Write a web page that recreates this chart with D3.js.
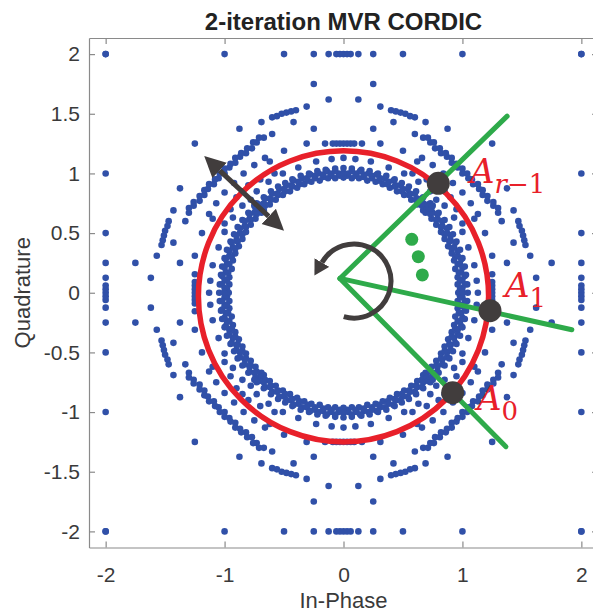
<!DOCTYPE html>
<html lang="en">
  <head>
    <meta charset="UTF-8" />
    <title>2-iteration MVR CORDIC</title>
    <style>
      html,
      body {
        margin: 0;
        background: #fff;
      }
      svg {
        display: block;
        font-family: "Liberation Sans", Arial, sans-serif;
      }
    </style>
    <script src="https://cdn.jsdelivr.net/npm/d3@7"></script>
  </head>

  <body>
    <script>
      // ---- data ----
      // clipped outputs sitting on the x = ±2 / y = ±2 borders
      const edgeVals = [-2, -1, -0.5, -0.25, -0.125, -0.06, -0.03, 0, 0.03, 0.06, 0.125, 0.25, 0.5, 1, 2];

      // isolated points outside the main ring
      const latticePts = [
        // upper left
        [-1.75,.25],[-.25,1.75],[-1.62,.125],[-.125,1.62],[-1.25,1.25],[-1.375,.875],[-.875,1.375],[-1.375,.25],[-.25,1.375],[-1.57,.31],[-.31,1.56],[-.69,1.43],[-1.43,.69],[-.42,1.43],[-1.43,.42],[-.6,1.33],[-1.33,.6],[-.5,1.19],[-1.19,.5],[-.31,1.25],[-.155,1.25],[-.09,1.25],[-.06,1.25],[-.03,1.25],[-1.25,.31],[-1.25,.155],[-1.25,.09],[-1.25,.06],[-1.25,.03],
        // upper right
        [1.75,.25],[.25,1.75],[1.62,.125],[.125,1.62],[1.25,1.25],[1.375,.875],[.875,1.375],[1.375,.25],[.25,1.375],[1.57,.31],[.31,1.56],[.69,1.43],[1.43,.69],[.42,1.43],[1.43,.42],[.6,1.33],[1.33,.6],[.5,1.19],[1.19,.5],[.31,1.25],[.155,1.25],[.09,1.25],[.06,1.25],[.03,1.25],[1.25,.31],[1.25,.155],[1.25,.09],[1.25,.06],[1.25,.03],
        // lower left
        [-1.75,-.25],[-.25,-1.75],[-1.62,-.125],[-.125,-1.62],[-1.25,-1.25],[-1.375,-.875],[-.875,-1.375],[-1.375,-.25],[-.25,-1.375],[-1.57,-.31],[-.31,-1.56],[-.69,-1.43],[-1.43,-.69],[-.42,-1.43],[-1.43,-.42],[-.6,-1.33],[-1.33,-.6],[-.5,-1.19],[-1.19,-.5],[-.31,-1.25],[-.155,-1.25],[-.09,-1.25],[-.06,-1.25],[-.03,-1.25],[-1.25,-.31],[-1.25,-.155],[-1.25,-.09],[-1.25,-.06],[-1.25,-.03],
        // lower right
        [1.75,-.25],[.25,-1.75],[1.62,-.125],[.125,-1.62],[1.25,-1.25],[1.375,-.875],[.875,-1.375],[1.375,-.25],[.25,-1.375],[1.57,-.31],[.31,-1.56],[.69,-1.43],[1.43,-.69],[.42,-1.43],[1.43,-.42],[.6,-1.33],[1.33,-.6],[.5,-1.19],[1.19,-.5],[.31,-1.25],[.155,-1.25],[.09,-1.25],[.06,-1.25],[.03,-1.25],[1.25,-.31],[1.25,-.155],[1.25,-.09],[1.25,-.06],[1.25,-.03]
      ];

      // dotted outer ring segments (r ~ 1.58)
      const outerRing = [
        [-.6,1.47],[-.56,1.48],[-.52,1.5],[-.48,1.51],[-.44,1.52],[-.4,1.53],[-1.47,.6],[-1.48,.56],[-1.5,.52],[-1.51,.48],[-1.52,.44],[-1.53,.4],
        [.6,1.47],[.56,1.48],[.52,1.5],[.48,1.51],[.44,1.52],[.4,1.53],[1.47,.6],[1.48,.56],[1.5,.52],[1.51,.48],[1.52,.44],[1.53,.4],
        [-.6,-1.47],[-.56,-1.48],[-.52,-1.5],[-.48,-1.51],[-.44,-1.52],[-.4,-1.53],[-1.47,-.6],[-1.48,-.56],[-1.5,-.52],[-1.51,-.48],[-1.52,-.44],[-1.53,-.4],
        [.6,-1.47],[.56,-1.48],[.52,-1.5],[.48,-1.51],[.44,-1.52],[.4,-1.53],[1.47,-.6],[1.48,-.56],[1.5,-.52],[1.51,-.48],[1.52,-.44],[1.53,-.4]
      ];

      // diagonal arcs (r ~ 1.45 and r ~ 1.32)
      const arcPts = [
        [-.67,1.3],[-.73,1.26],[-.77,1.21],[-.82,1.17],[-.87,1.14],[-.91,1.09],[-.96,1.05],[-1,1],[-1.05,.96],[-1.09,.91],[-1.14,.87],[-1.17,.82],[-1.21,.77],[-1.26,.73],[-1.3,.67],[-.71,1.3],[-.76,1.26],[-.81,1.21],[-.86,1.17],[-.91,1.13],[-.95,1.08],[-1,1.04],[-1.04,1],[-1.08,.95],[-1.13,.91],[-1.17,.86],[-1.21,.81],[-1.26,.76],[-1.3,.71],[-.66,1.13],[-.75,1.07],[-.84,1],[-.92,.92],[-1,.84],[-1.07,.75],[-1.13,.66],
        [.67,1.3],[.73,1.26],[.77,1.21],[.82,1.17],[.87,1.14],[.91,1.09],[.96,1.05],[1,1],[1.05,.96],[1.09,.91],[1.14,.87],[1.17,.82],[1.21,.77],[1.26,.73],[1.3,.67],[.71,1.3],[.76,1.26],[.81,1.21],[.86,1.17],[.91,1.13],[.95,1.08],[1,1.04],[1.04,1],[1.08,.95],[1.13,.91],[1.17,.86],[1.21,.81],[1.26,.76],[1.3,.71],[.66,1.13],[.75,1.07],[.84,1],[.92,.92],[1,.84],[1.07,.75],[1.13,.66],
        [-.67,-1.3],[-.73,-1.26],[-.77,-1.21],[-.82,-1.17],[-.87,-1.14],[-.91,-1.09],[-.96,-1.05],[-1,-1],[-1.05,-.96],[-1.09,-.91],[-1.14,-.87],[-1.17,-.82],[-1.21,-.77],[-1.26,-.73],[-1.3,-.67],[-.71,-1.3],[-.76,-1.26],[-.81,-1.21],[-.86,-1.17],[-.91,-1.13],[-.95,-1.08],[-1,-1.04],[-1.04,-1],[-1.08,-.95],[-1.13,-.91],[-1.17,-.86],[-1.21,-.81],[-1.26,-.76],[-1.3,-.71],[-.66,-1.13],[-.75,-1.07],[-.84,-1],[-.92,-.92],[-1,-.84],[-1.07,-.75],[-1.13,-.66],
        [.67,-1.3],[.73,-1.26],[.77,-1.21],[.82,-1.17],[.87,-1.14],[.91,-1.09],[.96,-1.05],[1,-1],[1.05,-.96],[1.09,-.91],[1.14,-.87],[1.17,-.82],[1.21,-.77],[1.26,-.73],[1.3,-.67],[.71,-1.3],[.76,-1.26],[.81,-1.21],[.86,-1.17],[.91,-1.13],[.95,-1.08],[1,-1.04],[1.04,-1],[1.08,-.95],[1.13,-.91],[1.17,-.86],[1.21,-.81],[1.26,-.76],[1.3,-.71],[.66,-1.13],[.75,-1.07],[.84,-1],[.92,-.92],[1,-.84],[1.07,-.75],[1.13,-.66]
      ];

      // the dense band around r ~ 1
      const bandPts = [
        // upper left
        [-.07,.96],[-.13,.96],[-.2,.94],[-.27,.93],[-.33,.91],[-.39,.88],[-.45,.85],[-.51,.82],[-.57,.78],[-.62,.74],[-.67,.69],[-.69,.67],[-.74,.62],[-.78,.57],[-.82,.51],[-.85,.45],[-.88,.39],[-.91,.33],[-.93,.27],[-.94,.2],[-.96,.13],[-.96,.07],
        [-.03,.98],[-.1,.98],[-.17,.97],[-.24,.96],[-.3,.94],[-.37,.91],[-.43,.89],[-.49,.85],[-.55,.82],[-.61,.78],[-.66,.73],[-.7,.7],[-.73,.66],[-.78,.61],[-.82,.55],[-.85,.49],[-.89,.43],[-.91,.37],[-.94,.3],[-.96,.24],[-.97,.17],[-.98,.1],[-.98,.03],
        [-.04,1],[-.11,1],[-.17,.99],[-.24,.98],[-.31,.96],[-.38,.93],[-.44,.9],[-.5,.87],[-.56,.83],[-.62,.79],[-.67,.75],[-.71,.71],[-.75,.67],[-.79,.62],[-.83,.56],[-.87,.5],[-.9,.44],[-.93,.38],[-.96,.31],[-.98,.24],[-.99,.17],[-1,.11],[-1,.04],
        [-.07,1.02],[-.14,1.02],[-.21,1],[-.28,.99],[-.35,.96],[-.42,.94],[-.48,.9],[-.54,.87],[-.6,.83],[-.66,.79],[-.71,.74],[-.74,.71],[-.79,.66],[-.83,.6],[-.87,.54],[-.9,.48],[-.94,.42],[-.96,.35],[-.99,.28],[-1,.21],[-1.02,.14],[-1.02,.07],
        [-.07,1.04],[-.15,1.03],[-.22,1.02],[-.29,1],[-.36,.98],[-.43,.95],[-.49,.92],[-.55,.89],[-.61,.85],[-.67,.8],[-.73,.75],[-.75,.73],[-.8,.67],[-.85,.61],[-.89,.55],[-.92,.49],[-.95,.43],[-.98,.36],[-1,.29],[-1.02,.22],[-1.03,.15],[-1.04,.07],
        [-.1,1.12],[-.23,1.1],[-.38,1.05],[-.51,1],[-.63,.93],[-.73,.85],[-.85,.73],[-.93,.63],[-1,.51],[-1.05,.38],[-1.1,.23],[-1.12,.1],
        [-.58,1],[-.7,.95],[-.8,.9],[-.85,.85],[-.9,.8],[-.95,.7],[-1,.58],[-.62,1.1],[-1.1,.62],[-.78,.78],
        // upper right
        [.07,.96],[.13,.96],[.2,.94],[.27,.93],[.33,.91],[.39,.88],[.45,.85],[.51,.82],[.57,.78],[.62,.74],[.67,.69],[.69,.67],[.74,.62],[.78,.57],[.82,.51],[.85,.45],[.88,.39],[.91,.33],[.93,.27],[.94,.2],[.96,.13],[.96,.07],
        [.03,.98],[.1,.98],[.17,.97],[.24,.96],[.3,.94],[.37,.91],[.43,.89],[.49,.85],[.55,.82],[.61,.78],[.66,.73],[.7,.7],[.73,.66],[.78,.61],[.82,.55],[.85,.49],[.89,.43],[.91,.37],[.94,.3],[.96,.24],[.97,.17],[.98,.1],[.98,.03],
        [.04,1],[.11,1],[.17,.99],[.24,.98],[.31,.96],[.38,.93],[.44,.9],[.5,.87],[.56,.83],[.62,.79],[.67,.75],[.71,.71],[.75,.67],[.79,.62],[.83,.56],[.87,.5],[.9,.44],[.93,.38],[.96,.31],[.98,.24],[.99,.17],[1,.11],[1,.04],
        [.07,1.02],[.14,1.02],[.21,1],[.28,.99],[.35,.96],[.42,.94],[.48,.9],[.54,.87],[.6,.83],[.66,.79],[.71,.74],[.74,.71],[.79,.66],[.83,.6],[.87,.54],[.9,.48],[.94,.42],[.96,.35],[.99,.28],[1,.21],[1.02,.14],[1.02,.07],
        [.07,1.04],[.15,1.03],[.22,1.02],[.29,1],[.36,.98],[.43,.95],[.49,.92],[.55,.89],[.61,.85],[.67,.8],[.73,.75],[.75,.73],[.8,.67],[.85,.61],[.89,.55],[.92,.49],[.95,.43],[.98,.36],[1,.29],[1.02,.22],[1.03,.15],[1.04,.07],
        [.1,1.12],[.23,1.1],[.38,1.05],[.51,1],[.63,.93],[.73,.85],[.85,.73],[.93,.63],[1,.51],[1.05,.38],[1.1,.23],[1.12,.1],
        [.58,1],[.7,.95],[.8,.9],[.85,.85],[.9,.8],[.95,.7],[1,.58],[.62,1.1],[1.1,.62],[.78,.78],
        // lower left
        [-.07,-.96],[-.13,-.96],[-.2,-.94],[-.27,-.93],[-.33,-.91],[-.39,-.88],[-.45,-.85],[-.51,-.82],[-.57,-.78],[-.62,-.74],[-.67,-.69],[-.69,-.67],[-.74,-.62],[-.78,-.57],[-.82,-.51],[-.85,-.45],[-.88,-.39],[-.91,-.33],[-.93,-.27],[-.94,-.2],[-.96,-.13],[-.96,-.07],
        [-.03,-.98],[-.1,-.98],[-.17,-.97],[-.24,-.96],[-.3,-.94],[-.37,-.91],[-.43,-.89],[-.49,-.85],[-.55,-.82],[-.61,-.78],[-.66,-.73],[-.7,-.7],[-.73,-.66],[-.78,-.61],[-.82,-.55],[-.85,-.49],[-.89,-.43],[-.91,-.37],[-.94,-.3],[-.96,-.24],[-.97,-.17],[-.98,-.1],[-.98,-.03],
        [-.04,-1],[-.11,-1],[-.17,-.99],[-.24,-.98],[-.31,-.96],[-.38,-.93],[-.44,-.9],[-.5,-.87],[-.56,-.83],[-.62,-.79],[-.67,-.75],[-.71,-.71],[-.75,-.67],[-.79,-.62],[-.83,-.56],[-.87,-.5],[-.9,-.44],[-.93,-.38],[-.96,-.31],[-.98,-.24],[-.99,-.17],[-1,-.11],[-1,-.04],
        [-.07,-1.02],[-.14,-1.02],[-.21,-1],[-.28,-.99],[-.35,-.96],[-.42,-.94],[-.48,-.9],[-.54,-.87],[-.6,-.83],[-.66,-.79],[-.71,-.74],[-.74,-.71],[-.79,-.66],[-.83,-.6],[-.87,-.54],[-.9,-.48],[-.94,-.42],[-.96,-.35],[-.99,-.28],[-1,-.21],[-1.02,-.14],[-1.02,-.07],
        [-.07,-1.04],[-.15,-1.03],[-.22,-1.02],[-.29,-1],[-.36,-.98],[-.43,-.95],[-.49,-.92],[-.55,-.89],[-.61,-.85],[-.67,-.8],[-.73,-.75],[-.75,-.73],[-.8,-.67],[-.85,-.61],[-.89,-.55],[-.92,-.49],[-.95,-.43],[-.98,-.36],[-1,-.29],[-1.02,-.22],[-1.03,-.15],[-1.04,-.07],
        [-.1,-1.12],[-.23,-1.1],[-.38,-1.05],[-.51,-1],[-.63,-.93],[-.73,-.85],[-.85,-.73],[-.93,-.63],[-1,-.51],[-1.05,-.38],[-1.1,-.23],[-1.12,-.1],
        [-.58,-1],[-.7,-.95],[-.8,-.9],[-.85,-.85],[-.9,-.8],[-.95,-.7],[-1,-.58],[-.62,-1.1],[-1.1,-.62],[-.78,-.78],
        // lower right
        [.07,-.96],[.13,-.96],[.2,-.94],[.27,-.93],[.33,-.91],[.39,-.88],[.45,-.85],[.51,-.82],[.57,-.78],[.62,-.74],[.67,-.69],[.69,-.67],[.74,-.62],[.78,-.57],[.82,-.51],[.85,-.45],[.88,-.39],[.91,-.33],[.93,-.27],[.94,-.2],[.96,-.13],[.96,-.07],
        [.03,-.98],[.1,-.98],[.17,-.97],[.24,-.96],[.3,-.94],[.37,-.91],[.43,-.89],[.49,-.85],[.55,-.82],[.61,-.78],[.66,-.73],[.7,-.7],[.73,-.66],[.78,-.61],[.82,-.55],[.85,-.49],[.89,-.43],[.91,-.37],[.94,-.3],[.96,-.24],[.97,-.17],[.98,-.1],[.98,-.03],
        [.04,-1],[.11,-1],[.17,-.99],[.24,-.98],[.31,-.96],[.38,-.93],[.44,-.9],[.5,-.87],[.56,-.83],[.62,-.79],[.67,-.75],[.71,-.71],[.75,-.67],[.79,-.62],[.83,-.56],[.87,-.5],[.9,-.44],[.93,-.38],[.96,-.31],[.98,-.24],[.99,-.17],[1,-.11],[1,-.04],
        [.07,-1.02],[.14,-1.02],[.21,-1],[.28,-.99],[.35,-.96],[.42,-.94],[.48,-.9],[.54,-.87],[.6,-.83],[.66,-.79],[.71,-.74],[.74,-.71],[.79,-.66],[.83,-.6],[.87,-.54],[.9,-.48],[.94,-.42],[.96,-.35],[.99,-.28],[1,-.21],[1.02,-.14],[1.02,-.07],
        [.07,-1.04],[.15,-1.03],[.22,-1.02],[.29,-1],[.36,-.98],[.43,-.95],[.49,-.92],[.55,-.89],[.61,-.85],[.67,-.8],[.73,-.75],[.75,-.73],[.8,-.67],[.85,-.61],[.89,-.55],[.92,-.49],[.95,-.43],[.98,-.36],[1,-.29],[1.02,-.22],[1.03,-.15],[1.04,-.07],
        [.1,-1.12],[.23,-1.1],[.38,-1.05],[.51,-1],[.63,-.93],[.73,-.85],[.85,-.73],[.93,-.63],[1,-.51],[1.05,-.38],[1.1,-.23],[1.12,-.1],
        [.58,-1],[.7,-.95],[.8,-.9],[.85,-.85],[.9,-.8],[.95,-.7],[1,-.58],[.62,-1.1],[1.1,-.62],[.78,-.78]
      ];

      // points lying on the axes themselves
      const axisPts = [
        [0,1.25],[0,-1.25],[1.25,0],[-1.25,0],[0,.965],[0,-.965],[.965,0],[-.965,0],
        [0,1.005],[0,-1.005],[1.005,0],[-1.005,0],[0,1.045],[0,-1.045],[1.045,0],[-1.045,0],
        [0,1.13],[0,-1.13],[1.13,0],[-1.13,0]
      ];

      const xTicks = [-2, -1, 0, 1, 2];
      const yTicks = [-2, -1.5, -1, -0.5, 0, 0.5, 1, 1.5, 2];

      // ---- canvas ----
      const width = 593;
      const height = 615;
      const svg = d3.select("body").append("svg").attr("width", width).attr("height", height);

      const x = d3.scaleLinear().domain([-2.14, 2.14]).range([89, 598]);
      const y = d3.scaleLinear().domain([-2.135, 2.135]).range([547.5, 38]);

      const axisGrey = "#8a8a8a";
      const textGrey = "#3a3a3a";
      const fmt = (d) => String(d); // keep plain hyphen minus

      // ---- axes (MATLAB box, inward ticks) ----
      const gx = svg.append("g").attr("transform", `translate(0,${y(-2.135)})`)
        .call(d3.axisBottom(x).tickValues(xTicks).tickFormat(fmt).tickSizeInner(-6).tickSizeOuter(0).tickPadding(20));
      const gxTop = svg.append("g").attr("transform", `translate(0,${y(2.135)})`)
        .call(d3.axisTop(x).tickValues(xTicks).tickFormat("").tickSizeInner(-6).tickSizeOuter(0));
      const gy = svg.append("g").attr("transform", `translate(${x(-2.14)},0)`)
        .call(d3.axisLeft(y).tickValues(yTicks).tickFormat(fmt).tickSizeInner(-6).tickSizeOuter(0).tickPadding(9));
      const gyRight = svg.append("g").attr("transform", `translate(${x(2.14)},0)`)
        .call(d3.axisRight(y).tickValues(yTicks).tickFormat("").tickSizeInner(-6).tickSizeOuter(0));

      [gx, gxTop, gy, gyRight].forEach((g) => {
        g.select(".domain").attr("stroke", axisGrey).attr("stroke-width", 1.2);
        g.selectAll(".tick line").attr("stroke", axisGrey).attr("stroke-width", 1.2);
        g.selectAll(".tick text").attr("fill", textGrey).attr("font-size", 21)
          .attr("font-family", "'Liberation Sans', Arial, sans-serif");
      });

      // ---- scatter ----
      const edgePts = edgeVals.flatMap((v) => [[v, 2], [v, -2], [2, v], [-2, v]]);
      const allPts = [].concat(edgePts, latticePts, outerRing, arcPts, bandPts, axisPts);

      svg.append("g")
        .selectAll("circle")
        .data(allPts)
        .join("circle")
        .attr("cx", (d) => x(d[0]))
        .attr("cy", (d) => y(d[1]))
        .attr("r", 3.3)
        .attr("fill", "#3050a8");

      // ---- annotations ----
      const red = "#e8202a";
      const green = "#2eaa4a";
      const dark = "#413d3d";

      // red reference circle
      const ring = { c: [0, -0.03], r: 1.22 };
      svg.append("ellipse")
        .attr("cx", x(ring.c[0]))
        .attr("cy", y(ring.c[1]))
        .attr("rx", x(ring.r) - x(0))
        .attr("ry", y(0) - y(ring.r))
        .attr("fill", "none")
        .attr("stroke", red)
        .attr("stroke-width", 5.5);

      // green rays
      const rayOrigin = [-0.03, 0.12];
      const rayEnds = [[1.376, 1.48], [1.92, -0.31], [1.366, -1.29]];
      svg.append("g")
        .selectAll("line")
        .data(rayEnds)
        .join("line")
        .attr("x1", x(rayOrigin[0]))
        .attr("y1", y(rayOrigin[1]))
        .attr("x2", (d) => x(d[0]))
        .attr("y2", (d) => y(d[1]))
        .attr("stroke", green)
        .attr("stroke-width", 5)
        .attr("stroke-linecap", "round");

      // the three green dots
      const greenDots = [[0.574, 0.448], [0.629, 0.302], [0.663, 0.149]];
      svg.append("g")
        .selectAll("circle")
        .data(greenDots)
        .join("circle")
        .attr("cx", (d) => x(d[0]))
        .attr("cy", (d) => y(d[1]))
        .attr("r", 6.5)
        .attr("fill", green);

      // arrow heads
      const defs = svg.append("defs");
      defs.append("marker")
        .attr("id", "headBig")
        .attr("markerUnits", "userSpaceOnUse")
        .attr("viewBox", "0 -11 22 22")
        .attr("markerWidth", 22)
        .attr("markerHeight", 22)
        .attr("refX", 0)
        .attr("refY", 0)
        .attr("orient", "auto-start-reverse")
        .append("path")
        .attr("d", "M0,-10.5L21,0L0,10.5Z")
        .attr("fill", dark);
      defs.append("marker")
        .attr("id", "headSmall")
        .attr("markerUnits", "userSpaceOnUse")
        .attr("viewBox", "0 -9 16 18")
        .attr("markerWidth", 16)
        .attr("markerHeight", 18)
        .attr("refX", 0)
        .attr("refY", 0)
        .attr("orient", "auto")
        .append("path")
        .attr("d", "M0,-8.5L15,0L0,8.5Z")
        .attr("fill", dark);

      // double arrow on the upper left
      const dbl = [[-1.165, 1.14], [-0.506, 0.525]];
      const p0 = [x(dbl[0][0]), y(dbl[0][1])];
      const p1 = [x(dbl[1][0]), y(dbl[1][1])];
      const len = Math.hypot(p1[0] - p0[0], p1[1] - p0[1]);
      const ux = (p1[0] - p0[0]) / len;
      const uy = (p1[1] - p0[1]) / len;
      svg.append("line")
        .attr("x1", p0[0] + ux * 20)
        .attr("y1", p0[1] + uy * 20)
        .attr("x2", p1[0] - ux * 20)
        .attr("y2", p1[1] - uy * 20)
        .attr("stroke", dark)
        .attr("stroke-width", 5)
        .attr("marker-start", "url(#headBig)")
        .attr("marker-end", "url(#headBig)");

      // rotation arrow around the ray origin
      const rot = { c: [0.088, 0.098], r: 37, from: 106, to: -150 };
      const rc = [x(rot.c[0]), y(rot.c[1])];
      const rad = (a) => (a * Math.PI) / 180;
      const rs = [rc[0] + rot.r * Math.cos(rad(rot.from)), rc[1] + rot.r * Math.sin(rad(rot.from))];
      const re = [rc[0] + rot.r * Math.cos(rad(rot.to)), rc[1] + rot.r * Math.sin(rad(rot.to))];
      svg.append("path")
        .attr("d", `M${rs[0]},${rs[1]}A${rot.r},${rot.r} 0 1 0 ${re[0]},${re[1]}`)
        .attr("fill", "none")
        .attr("stroke", dark)
        .attr("stroke-width", 5)
        .attr("marker-end", "url(#headSmall)");

      // grey nodes on the circle
      const nodes = [[0.797, 0.917], [1.232, -0.15], [0.918, -0.838]];
      svg.append("g")
        .selectAll("circle")
        .data(nodes)
        .join("circle")
        .attr("cx", (d) => x(d[0]))
        .attr("cy", (d) => y(d[1]))
        .attr("r", 11.5)
        .attr("fill", dark);

      // A labels
      const labels = [
        { pos: [1.064, 0.92], sub: [["r", "italic"], ["\u22121", "normal"]] },
        { pos: [1.358, -0.033], sub: [["1", "normal"]] },
        { pos: [1.1225, -0.983], sub: [["0", "normal"]] },
      ];
      labels.forEach((l) => {
        const t = svg.append("text")
          .attr("x", x(l.pos[0]))
          .attr("y", y(l.pos[1]))
          .attr("fill", red)
          .attr("font-family", "'DejaVu Serif', 'Liberation Serif', serif");
        t.append("tspan").attr("font-style", "italic").attr("font-size", 34).text("A");
        l.sub.forEach((s, i) => {
          t.append("tspan")
            .attr("font-style", s[1])
            .attr("font-size", 26)
            .attr("dx", i === 0 ? 0 : 0)
            .attr("dy", i === 0 ? 10 : 0)
            .text(s[0]);
        });
      });

      // ---- titles ----
      svg.append("text")
        .attr("x", (x(-2.14) + x(2.14)) / 2)
        .attr("y", 29.5)
        .attr("text-anchor", "middle")
        .attr("font-size", 24)
        .attr("font-weight", "bold")
        .attr("fill", "#222")
        .text("2-iteration MVR CORDIC");

      svg.append("text")
        .attr("x", (x(-2.14) + x(2.14)) / 2)
        .attr("y", 608)
        .attr("text-anchor", "middle")
        .attr("font-size", 22)
        .attr("fill", textGrey)
        .text("In-Phase");

      svg.append("text")
        .attr("transform", `translate(30,${y(0)}) rotate(-90)`)
        .attr("text-anchor", "middle")
        .attr("font-size", 22)
        .attr("fill", textGrey)
        .text("Quadrature");
    </script>
  </body>
</html>
